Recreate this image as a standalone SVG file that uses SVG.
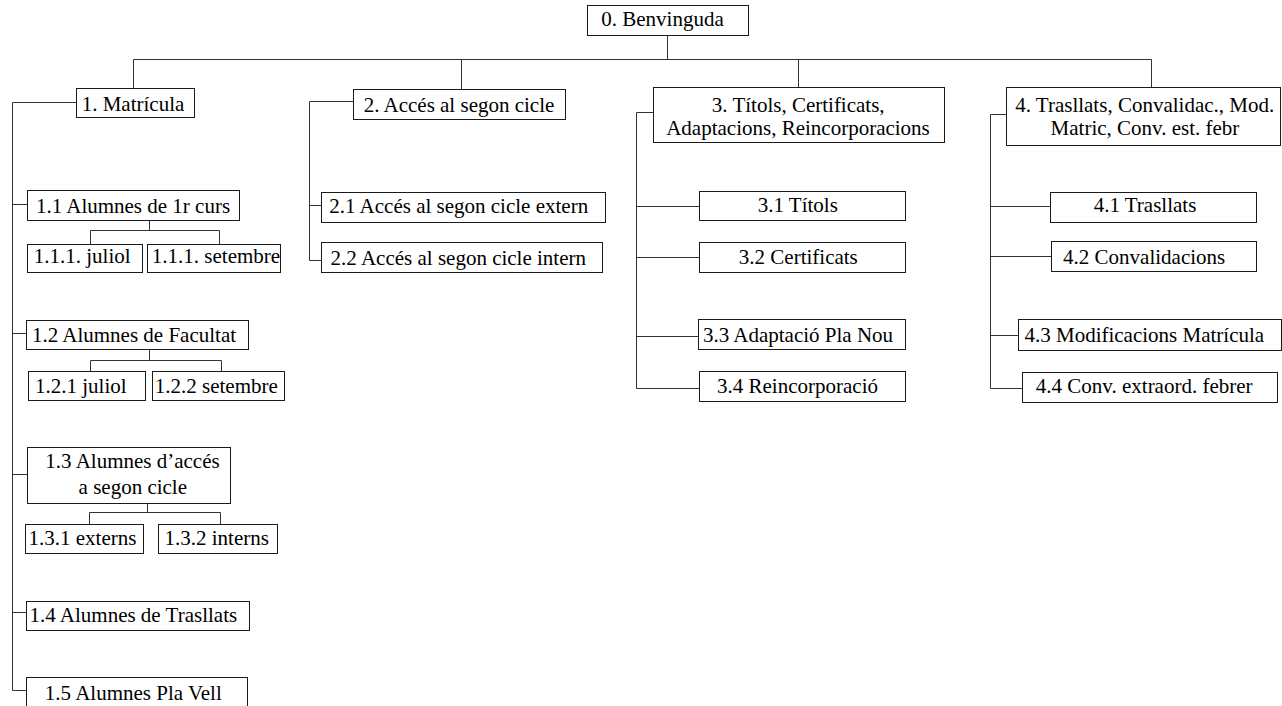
<svg xmlns="http://www.w3.org/2000/svg" width="1282" height="706" viewBox="0 0 1282 706">
<defs>
<style>
rect{fill:#fff;stroke:#1a1a1a;stroke-width:1}
.c path{fill:none;stroke:#333;stroke-width:1}
</style>
</defs>
<rect x="0" y="0" width="1282" height="706" style="stroke:none"/>
<g class="c" id="connectors">
<path d="M667.5 35V59.5M133.5 88V59.5H1151.5V87M461.5 59.5V89M798.5 59.5V87"/>
<path d="M76 102.5H12.5V690.5H26M12.5 204.5H27M12.5 333.5H26M12.5 474.5H27M12.5 612.5H26"/>
<path d="M149.5 221V230.5M90.5 244V230.5H219.5V244"/>
<path d="M149.5 349V360.5M90.5 371V360.5H221.5V371"/>
<path d="M147.5 503V512.5M89.5 524V512.5H220.5V524"/>
<path d="M353 101.5H309.5V260.5H321M309.5 205.5H321"/>
<path d="M653 112.5H636.5V388.5H699M636.5 206.5H699M636.5 257.5H699M636.5 336.5H698"/>
<path d="M1006 114.5H990.5V388.5H1022M990.5 206.5H1050M990.5 256.5H1051M990.5 335.5H1018"/>
</g>
<g font-family="Liberation Serif" font-size="21" text-anchor="middle" fill="#000">
<g id="n0"><rect x="587.5" y="5.5" width="161" height="30"/><text font-family="Liberation Serif" font-size="21" x="662.5" y="26">0. Benvinguda</text></g>
<g id="n1"><rect x="76.5" y="88.5" width="118" height="29"/><text font-family="Liberation Serif" font-size="21" x="133" y="111">1. Matrícula</text></g>
<g id="n11"><rect x="27.5" y="190.5" width="212" height="30"/><text font-family="Liberation Serif" font-size="21" x="133" y="213.3">1.1 Alumnes de 1r curs</text></g>
<g id="n111"><rect x="27.5" y="244.5" width="115" height="28"/><text font-family="Liberation Serif" font-size="21" x="82.2" y="263.3">1.1.1. juliol</text></g>
<g id="n112"><rect x="147.5" y="244.5" width="133" height="28"/><text font-family="Liberation Serif" font-size="21" x="216" y="263.3">1.1.1. setembre</text></g>
<g id="n12"><rect x="26.5" y="320.5" width="222" height="29"/><text font-family="Liberation Serif" font-size="21" x="134" y="341.7">1.2 Alumnes de Facultat</text></g>
<g id="n121"><rect x="28.5" y="371.5" width="117" height="29"/><text font-family="Liberation Serif" font-size="21" x="80.8" y="392.7">1.2.1 juliol</text></g>
<g id="n122"><rect x="152.5" y="371.5" width="132" height="29"/><text font-family="Liberation Serif" font-size="21" x="216.3" y="392.7">1.2.2 setembre</text></g>
<g id="n13"><rect x="27.5" y="447.5" width="203" height="56"/><text font-family="Liberation Serif" font-size="21" x="132.5" y="468.3">1.3 Alumnes d’accés</text><text font-family="Liberation Serif" font-size="21" x="132.8" y="494">a segon cicle</text></g>
<g id="n131"><rect x="25.5" y="524.5" width="118" height="29"/><text font-family="Liberation Serif" font-size="21" x="82.5" y="545">1.3.1 externs</text></g>
<g id="n132"><rect x="158.5" y="524.5" width="119" height="29"/><text font-family="Liberation Serif" font-size="21" x="216.7" y="545">1.3.2 interns</text></g>
<g id="n14"><rect x="26.5" y="601.5" width="223" height="29"/><text font-family="Liberation Serif" font-size="21" x="133.3" y="622.3">1.4 Alumnes de Trasllats</text></g>
<g id="n15"><rect x="26.5" y="677.5" width="221" height="30"/><text font-family="Liberation Serif" font-size="21" x="133.3" y="700">1.5 Alumnes Pla Vell</text></g>
<g id="n2"><rect x="353.5" y="89.5" width="212" height="30"/><text font-family="Liberation Serif" font-size="21" x="459" y="111.7">2. Accés al segon cicle</text></g>
<g id="n21"><rect x="321.5" y="192.5" width="284" height="30"/><text font-family="Liberation Serif" font-size="21" x="458.7" y="213.3">2.1 Accés al segon cicle extern</text></g>
<g id="n22"><rect x="321.5" y="242.5" width="281" height="30"/><text font-family="Liberation Serif" font-size="21" x="458.3" y="265">2.2 Accés al segon cicle intern</text></g>
<g id="n3"><rect x="653.5" y="87.5" width="291" height="55"/><text font-family="Liberation Serif" font-size="21" x="798.2" y="111.7">3. Títols, Certificats,</text><text font-family="Liberation Serif" font-size="21" x="798" y="135">Adaptacions, Reincorporacions</text></g>
<g id="n31"><rect x="699.5" y="191.5" width="206" height="29"/><text font-family="Liberation Serif" font-size="21" x="797.8" y="212.3">3.1 Títols</text></g>
<g id="n32"><rect x="699.5" y="242.5" width="206" height="30"/><text font-family="Liberation Serif" font-size="21" x="798.3" y="264.3">3.2 Certificats</text></g>
<g id="n33"><rect x="698.5" y="319.5" width="207" height="30"/><text font-family="Liberation Serif" font-size="21" x="798" y="341.7">3.3 Adaptació Pla Nou</text></g>
<g id="n34"><rect x="699.5" y="371.5" width="206" height="30"/><text font-family="Liberation Serif" font-size="21" x="797.5" y="393.3">3.4 Reincorporació</text></g>
<g id="n4"><rect x="1006.5" y="87.5" width="274" height="58"/><text font-family="Liberation Serif" font-size="21" x="1144.7" y="111.7">4. Trasllats, Convalidac., Mod.</text><text font-family="Liberation Serif" font-size="21" x="1145" y="135">Matric, Conv. est. febr</text></g>
<g id="n41"><rect x="1050.5" y="192.5" width="206" height="30"/><text font-family="Liberation Serif" font-size="21" x="1145" y="212.3">4.1 Trasllats</text></g>
<g id="n42"><rect x="1051.5" y="241.5" width="205" height="30"/><text font-family="Liberation Serif" font-size="21" x="1144.2" y="264.3">4.2 Convalidacions</text></g>
<g id="n43"><rect x="1018.5" y="319.5" width="263" height="31"/><text font-family="Liberation Serif" font-size="21" x="1144.3" y="341.7">4.3 Modificacions Matrícula</text></g>
<g id="n44"><rect x="1022.5" y="372.5" width="255" height="30"/><text font-family="Liberation Serif" font-size="21" x="1144.2" y="393.3">4.4 Conv. extraord. febrer</text></g>
</g>
</svg>
